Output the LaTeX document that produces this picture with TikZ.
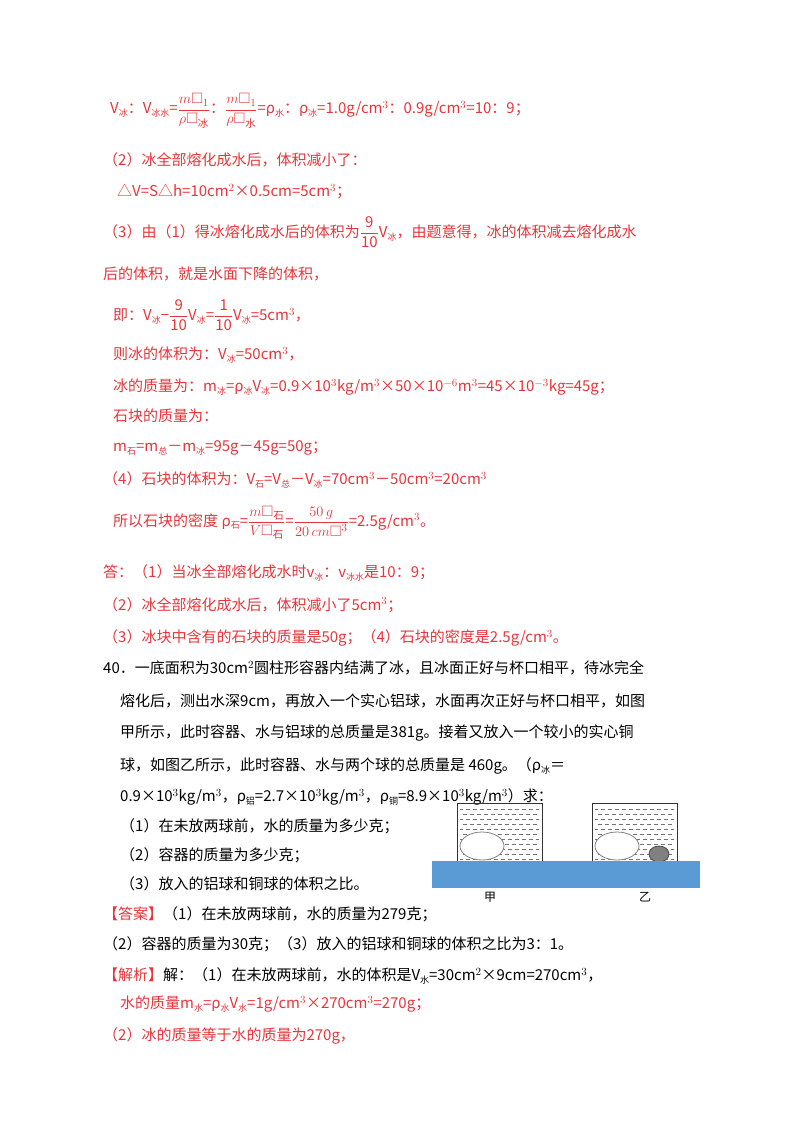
\documentclass[tikz,border=0pt]{standalone}
\usepackage{fontspec}
\usepackage{amsmath,amssymb}
\setmainfont{Noto Sans CJK SC}
\usetikzlibrary{positioning}
\definecolor{ansred}{RGB}{232,52,58}
\definecolor{deskblue}{RGB}{91,155,213}
\newcommand\xb[1]{\raisebox{-0.35ex}{\fontsize{9}{9}\selectfont #1}}
\newcommand\zf[2]{$\dfrac{\text{#1}}{\text{#2}}$}
\begin{document}
\begin{tikzpicture}[x=1pt,y=-1pt,
  txt/.style={anchor=west,inner sep=0pt,text=ansred,font=\fontsize{15}{15}\selectfont},
  blk/.style={txt,text=black},
  cup/.style={draw=black!80,line width=0.8pt},
  ball/.style={draw=black!50,fill=white,line width=0.8pt}]
\useasboundingbox (0,0) rectangle (800,1132);
% answer part
\node[txt] (l1) at (110,111) {V\xb{冰}：V\xb{冰水}=\zf{$m\square_1$}{$\rho\square_{\text{冰}}$}：\zf{$m\square_1$}{$\rho\square_{\text{水}}$}=ρ\xb{水}：ρ\xb{冰}=1.0g/cm$^3$：0.9g/cm$^3$=10：9；};
\node[txt] (l2) at (103,160) {（2）冰全部熔化成水后，体积减小了：};
\node[txt] (l3) at (117,192) {△V=S△h=10cm$^2$×0.5cm=5cm$^3$；};
\node[txt] (l4) at (103,232) {（3）由（1）得冰熔化成水后的体积为\zf{9}{10}V\xb{冰}，由题意得，冰的体积减去熔化成水};
\node[txt] (l5) at (103,274) {后的体积，就是水面下降的体积，};
\node[txt] (l6) at (113,315) {即：V\xb{冰}−\zf{9}{10}V\xb{冰}=\zf{1}{10}V\xb{冰}=5cm$^3$，};
\node[txt] (l7) at (113,355) {则冰的体积为：V\xb{冰}=50cm$^3$，};
\node[txt] (l8) at (113,387) {冰的质量为：m\xb{冰}=ρ\xb{冰}V\xb{冰}=0.9×10$^3$kg/m$^3$×50×10$^{-6}$m$^3$=45×10$^{-3}$kg=45g；};
\node[txt] (l9) at (113,416) {石块的质量为：};
\node[txt] (l10) at (113,448) {m\xb{石}=m\xb{总}－m\xb{冰}=95g－45g=50g；};
\node[txt] (l11) at (103,480) {（4）石块的体积为：V\xb{石}=V\xb{总}－V\xb{冰}=70cm$^3$－50cm$^3$=20cm$^3$};
\node[txt] (l12) at (113,523) {所以石块的密度 ρ\xb{石}=\zf{$m\square_{\text{石}}$}{$V\square_{\text{石}}$}=\zf{$50\,g$}{$20\,cm\square^3$}=2.5g/cm$^3$。};
\node[txt] (l13) at (103,573) {答：（1）当冰全部熔化成水时v\xb{冰}：v\xb{冰水}是10：9；};
\node[txt] (l14) at (103,605) {（2）冰全部熔化成水后，体积减小了5cm$^3$；};
\node[txt] (l15) at (103,638) {（3）冰块中含有的石块的质量是50g；（4）石块的密度是2.5g/cm$^3$。};
% question 40
\node[blk] (q1) at (103,668) {40．一底面积为30cm$^2$圆柱形容器内结满了冰，且冰面正好与杯口相平，待冰完全};
\node[blk] (q2) at (120,701) {熔化后，测出水深9cm，再放入一个实心铝球，水面再次正好与杯口相平，如图};
\node[blk] (q3) at (120,733) {甲所示，此时容器、水与铝球的总质量是381g。接着又放入一个较小的实心铜};
\node[blk] (q4) at (120,766) {球，如图乙所示，此时容器、水与两个球的总质量是 460g。（ρ\xb{冰}＝};
\node[blk] (q5) at (120,797) {0.9×10$^3$kg/m$^3$，ρ\xb{铝}=2.7×10$^3$kg/m$^3$，ρ\xb{铜}=8.9×10$^3$kg/m$^3$）求：};
\node[blk] (q6) at (120,826) {（1）在未放两球前，水的质量为多少克；};
\node[blk] (q7) at (120,855) {（2）容器的质量为多少克；};
\node[blk] (q8) at (120,884) {（3）放入的铝球和铜球的体积之比。};
\node[blk] (a1) at (103,914) {\textcolor{ansred}{【答案】}（1）在未放两球前，水的质量为279克；};
\node[blk] (a2) at (103,944) {（2）容器的质量为30克；（3）放入的铝球和铜球的体积之比为3：1。};
\node[blk] (a3) at (103,976) {\textcolor{ansred}{【解析】}解：（1）在未放两球前，水的体积是V\xb{水}=30cm$^2$×9cm=270cm$^3$，};
\node[txt] (a4) at (120,1004) {水的质量m\xb{水}=ρ\xb{水}V\xb{水}=1g/cm$^3$×270cm$^3$=270g；};
\node[txt] (a5) at (103,1036) {（2）冰的质量等于水的质量为270g，};
% figure
\foreach \cx in {457,592}{%
  \begin{scope}
    \clip (\cx+3,807) rectangle (\cx+82,860);
    \foreach \r in {0,...,10}{%
      \foreach \c in {0,...,12}{%
        \draw[black!55,line width=0.6pt] ({\cx+2+\c*7+mod(\r,2)*3.5},{809+\r*5}) -- ++(4,0);}}
  \end{scope}
  \draw[cup] (\cx,861) -- (\cx,803) -- (\cx+85,803) -- (\cx+85,861);}
\draw[ball] (482,846) ellipse (22 and 14);
\draw[ball] (617,846) ellipse (22 and 14);
\draw[draw=black!70,fill=black!50,line width=0.8pt] (659,854) ellipse (10 and 8);
\fill[deskblue] (432,861) rectangle (700,888);
\node[blk,anchor=center,font=\fontsize{12}{12}\selectfont] (jia) at (490,897) {甲};
\node[blk,anchor=center,font=\fontsize{12}{12}\selectfont] (yi) at (645,897) {乙};
\end{tikzpicture}
\end{document}
